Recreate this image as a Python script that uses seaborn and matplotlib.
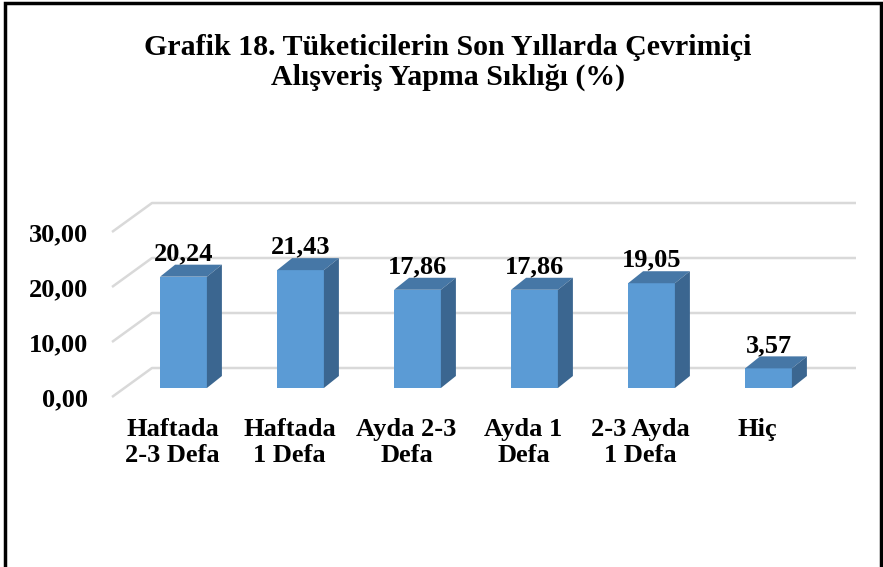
import matplotlib
matplotlib.use('Agg')

import numpy as np
import matplotlib.pyplot as plt
import seaborn as sns
from matplotlib.patches import Polygon, Rectangle

categories = ["Haftada\n2-3 Defa", "Haftada\n1 Defa", "Ayda 2-3\nDefa",
              "Ayda 1\nDefa", "2-3 Ayda\n1 Defa", "Hiç"]
values = [20.24, 21.43, 17.86, 17.86, 19.05, 3.57]
value_labels = ["20,24", "21,43", "17,86", "17,86", "19,05", "3,57"]
yticks = [0, 10, 20, 30]
ytick_labels = ["0,00", "10,00", "20,00", "30,00"]
title = "Grafik 18. Tüketicilerin Son Yıllarda Çevrimiçi\nAlışveriş Yapma Sıklığı (%)"

W, H = 883, 567
PX_X = 117.0   # pixels per category step
PX_Y = 5.5     # pixels per value unit
XMIN, XMAX = -0.75, 5.8
YMIN, YMAX = -3.0, 38.0
LEFT_PX, BASE_PX = 95.75, 404.5

FRONT = "#5B9BD5"
TOP = "#4677A6"
SIDE = "#3B6690"
GRID = "#D9D9D9"

sns.set_style("white")
plt.rcParams['font.family'] = ['Liberation Serif', 'DejaVu Serif']
plt.rcParams['font.weight'] = 'bold'
plt.rcParams['text.color'] = 'black'
plt.rcParams['xtick.color'] = 'black'
plt.rcParams['ytick.color'] = 'black'

fig = plt.figure(figsize=(W / 100, H / 100), dpi=100)
ax = fig.add_axes([LEFT_PX / W, (H - BASE_PX) / H,
                   (XMAX - XMIN) * PX_X / W, (YMAX - YMIN) * PX_Y / H])

# 3D-ish gridlines: front edge, diagonal to back wall, back horizontal
fx, fy = (112 - 183.5) / PX_X, -9 / PX_Y
bx, by = (152 - 183.5) / PX_X, 20 / PX_Y
ex = (856 - 183.5) / PX_X
for v in yticks:
    ax.plot([fx, bx, ex], [v + fy, v + by, v + by], color=GRID, lw=1.8,
            zorder=0, solid_capstyle='butt')

sns.barplot(x=categories, y=values, color=FRONT, saturation=1, width=0.40,
            linewidth=0, ax=ax, zorder=3)

ddx, ddy = 15 / PX_X, 12 / PX_Y
for p, lab in zip(ax.patches, value_labels):
    x0, w, h = p.get_x(), p.get_width(), p.get_height()
    ax.add_patch(Polygon([(x0, h), (x0 + w, h), (x0 + w + ddx, h + ddy), (x0 + ddx, h + ddy)],
                         closed=True, facecolor=TOP, edgecolor='none', zorder=3))
    ax.add_patch(Polygon([(x0 + w, 0), (x0 + w, h), (x0 + w + ddx, h + ddy), (x0 + w + ddx, ddy)],
                         closed=True, facecolor=SIDE, edgecolor='none', zorder=3))
    ax.text(x0 + w / 2, h + 3.0, lab, ha='center', va='baseline', color='black',
            fontsize=19, fontweight='bold', zorder=4)

ax.set_xlim(XMIN, XMAX)
ax.set_ylim(YMIN, YMAX)
ax.set_xticks(np.arange(len(categories)) - 11 / PX_X)
ax.set_xticklabels(categories, fontsize=19, fontweight='bold', linespacing=1.15)
ax.set_yticks([v + fy for v in yticks])
ax.set_yticklabels(ytick_labels, fontsize=19, fontweight='bold')
ax.tick_params(axis='both', length=0, labelcolor='black')
ax.tick_params(axis='y', pad=5.6)
ax.tick_params(axis='x', pad=10)
ax.set_xlabel("")
ax.set_ylabel("")
for s in ax.spines.values():
    s.set_visible(False)

fig.text(448 / W, 1 - 62.5 / H, title, ha='center', va='center', fontsize=21.5,
         fontweight='bold', linespacing=1.1, color='black')

# chart border
fig.add_artist(Rectangle((5 / W, -0.1), 876 / W, 1.1 - 3 / H, transform=fig.transFigure,
                         fill=False, edgecolor='black', lw=2.5))

fig.savefig("out.png", dpi=100)
